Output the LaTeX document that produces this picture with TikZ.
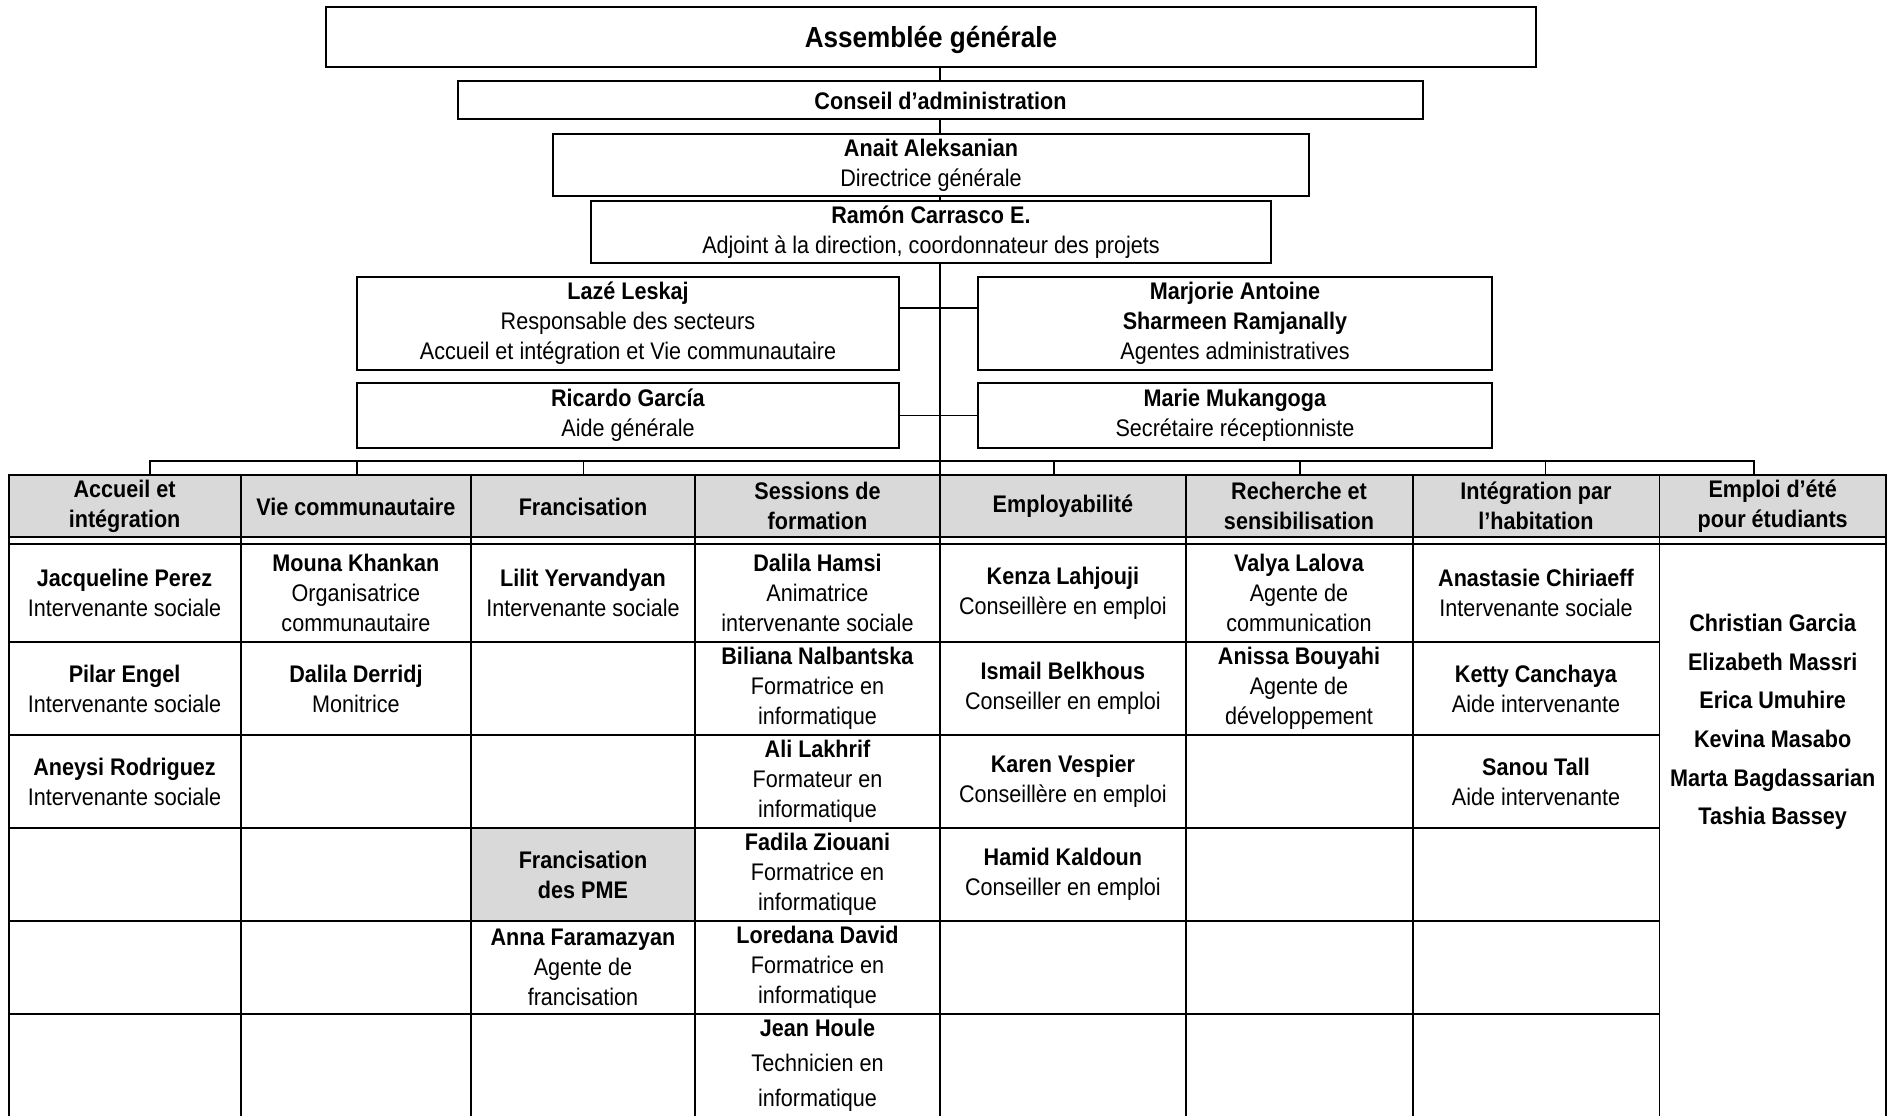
\documentclass[tikz,border=0pt]{standalone}
\usepackage{fontspec}
\setmainfont[FakeStretch=0.9]{Liberation Sans}
\usetikzlibrary{backgrounds}
\definecolor{hdr}{RGB}{217,217,217}
\newcommand\topstrut{\vrule height \dimexpr 0.5\baselineskip+15.5pt\relax depth 0pt width 0pt}
\newcommand\botstrut{\vrule height 0pt depth \dimexpr 0.5\baselineskip-15.5pt\relax width 0pt}
\tikzset{
  body/.style={align=center, inner sep=0pt, font=\fontsize{24}{30}\selectfont,
    execute at begin node=\topstrut, execute at end node=\botstrut},
  orgbox/.style={body, draw, line width=2pt, fill=white},
  conn/.style={line width=1.6pt},
  grid/.style={line width=1.8pt},
  hd/.style={body, font=\fontsize{24}{30}\selectfont\bfseries},
  single/.style={font=\fontsize{24}{30}\selectfont\bfseries, inner sep=0pt},
}
\begin{document}
\begin{tikzpicture}[x=1pt,y=-1pt]
\useasboundingbox (0,0) rectangle (1896,1116);
% ---------- top boxes ----------
\node[orgbox, minimum width=1210pt, minimum height=60pt] (ag) at (931,37) {};
\node[single, font=\fontsize{29}{34}\selectfont\bfseries] (agt) at (931,40) {Assemblée générale};
\node[orgbox, minimum width=965pt, minimum height=38pt] (ca) at (940.5,100) {};
\node[single] (cat) at (940.5,100.5) {Conseil d’administration};
\node[orgbox, minimum width=756pt, minimum height=62pt] (aa) at (931,165) {\textbf{Anait Aleksanian}\\Directrice générale};
\node[orgbox, minimum width=680pt, minimum height=62pt] (rc) at (931,232) {\textbf{Ramón Carrasco E.}\\Adjoint à la direction, coordonnateur des projets};
\node[orgbox, minimum width=542pt, minimum height=93pt] (lz) at (628,323.5) {\textbf{Lazé Leskaj}\\Responsable des secteurs\\Accueil et intégration et Vie communautaire};
\node[orgbox, minimum width=514pt, minimum height=93pt] (ma) at (1235,323.5) {\textbf{Marjorie Antoine}\\\textbf{Sharmeen Ramjanally}\\Agentes administratives};
\node[orgbox, minimum width=542pt, minimum height=65pt] (rg) at (628,415.5) {\textbf{Ricardo García}\\Aide générale};
\node[orgbox, minimum width=514pt, minimum height=65pt] (mm) at (1235,415.5) {\textbf{Marie Mukangoga}\\Secrétaire réceptionniste};
% ---------- helper coordinates ----------
\coordinate (spx) at (940,0);
\coordinate (ttop) at (0,475);
\coordinate (lzc) at (0,308);
\coordinate (b1) at (150,461);
\coordinate (b2) at (357,461);
\coordinate (b3) at (583.5,461);
\coordinate (b4) at (940,461);
\coordinate (b5) at (1054,461);
\coordinate (b6) at (1300,461);
\coordinate (b7) at (1545.5,461);
\coordinate (b8) at (1754,461);
% ---------- connectors ----------
\begin{pgfonlayer}{background}
\draw[conn] (ag.south -| spx) -- (ttop -| spx);
\draw[conn] (lz.east |- lzc) -- (ma.west |- lzc);
\draw[conn] (rg.east) -- (mm.west);
\draw[conn] (b1 |- ttop) -- (b1) -- (b8) -- (b8 |- ttop);
\foreach \i in {2,...,7} \draw[conn] (b\i) -- (b\i |- ttop);
\end{pgfonlayer}
% ---------- table ----------
\fill[hdr] (8.6,475) rectangle (1886,537);
\fill[hdr] (471,828) rectangle (695,921);
\draw[grid] (8.6,1116) -- (8.6,475) -- (1886,475) -- (1886,1116);
\draw[grid] (8.6,537) -- (1886,537);
\draw[grid] (8.6,544) -- (1886,544);
\foreach \yy in {642,735,828,921,1014} \draw[grid] (8.6,\yy) -- (1659.5,\yy);
\foreach \xx in {240.7,471,695,940,1185.7,1412.6,1659.5} \draw[grid] (\xx,475) -- (\xx,1116);
% headers
\node[hd] (h1) at (124.6,506) {Accueil et\\intégration};
\node[single] (h2) at (355.9,506.5) {Vie communautaire};
\node[single] (h3) at (583,506.5) {Francisation};
\node[hd] (h4) at (817.5,506) {Sessions de\\formation};
\node[single] (h5) at (1062.9,506.5) {Employabilité};
\node[hd] (h6) at (1299,506) {Recherche et\\sensibilisation};
\node[hd] (h7) at (1536,506) {Intégration par\\l’habitation};
\node[hd] (h8) at (1772.7,506) {Emploi d’été\\pour étudiants};
% column 1
\node[body] (c11) at (124.6,593) {\textbf{Jacqueline Perez}\\Intervenante sociale};
\node[body] (c12) at (124.6,688.5) {\textbf{Pilar Engel}\\Intervenante sociale};
\node[body] (c13) at (124.6,781.5) {\textbf{Aneysi Rodriguez}\\Intervenante sociale};
% column 2
\node[body] (c21) at (355.9,593) {\textbf{Mouna Khankan}\\Organisatrice\\communautaire};
\node[body] (c22) at (355.9,688.5) {\textbf{Dalila Derridj}\\Monitrice};
% column 3
\node[body] (c31) at (583,593) {\textbf{Lilit Yervandyan}\\Intervenante sociale};
\node[hd] (c34) at (583,874.5) {Francisation\\des PME};
\node[body] (c35) at (583,967.5) {\textbf{Anna Faramazyan}\\Agente de\\francisation};
% column 4
\node[body] (c41) at (817.5,593) {\textbf{Dalila Hamsi}\\Animatrice\\intervenante sociale};
\node[body] (c42) at (817.5,688.5) {\textbf{Biliana Nalbantska}\\Formatrice en\\informatique};
\node[body] (c43) at (817.5,781.5) {\textbf{Ali Lakhrif}\\Formateur en\\informatique};
\node[body] (c44) at (817.5,874.5) {\textbf{Fadila Ziouani}\\Formatrice en\\informatique};
\node[body] (c45) at (817.5,967.5) {\textbf{Loredana David}\\Formatrice en\\informatique};
\node[body, font=\fontsize{24}{35}\selectfont] (c46) at (817.5,1065) {\textbf{Jean Houle}\\Technicien en\\informatique};
% column 5
\node[body] (c51) at (1062.9,593) {\textbf{Kenza Lahjouji}\\Conseillère en emploi};
\node[body] (c52) at (1062.9,688.5) {\textbf{Ismail Belkhous}\\Conseiller en emploi};
\node[body] (c53) at (1062.9,781.5) {\textbf{Karen Vespier}\\Conseillère en emploi};
\node[body] (c54) at (1062.9,874.5) {\textbf{Hamid Kaldoun}\\Conseiller en emploi};
% column 6
\node[body] (c61) at (1299,593) {\textbf{Valya Lalova}\\Agente de\\communication};
\node[body] (c62) at (1299,688.5) {\textbf{Anissa Bouyahi}\\Agente de\\développement};
% column 7
\node[body] (c71) at (1536,593) {\textbf{Anastasie Chiriaeff}\\Intervenante sociale};
\node[body] (c72) at (1536,688.5) {\textbf{Ketty Canchaya}\\Aide intervenante};
\node[body] (c73) at (1536,781.5) {\textbf{Sanou Tall}\\Aide intervenante};
% column 8
\node[body, font=\fontsize{24}{38.7}\selectfont\bfseries] (c81) at (1772.7,722) {Christian Garcia\\Elizabeth Massri\\Erica Umuhire\\Kevina Masabo\\Marta Bagdassarian\\Tashia Bassey};
\end{tikzpicture}
\end{document}
